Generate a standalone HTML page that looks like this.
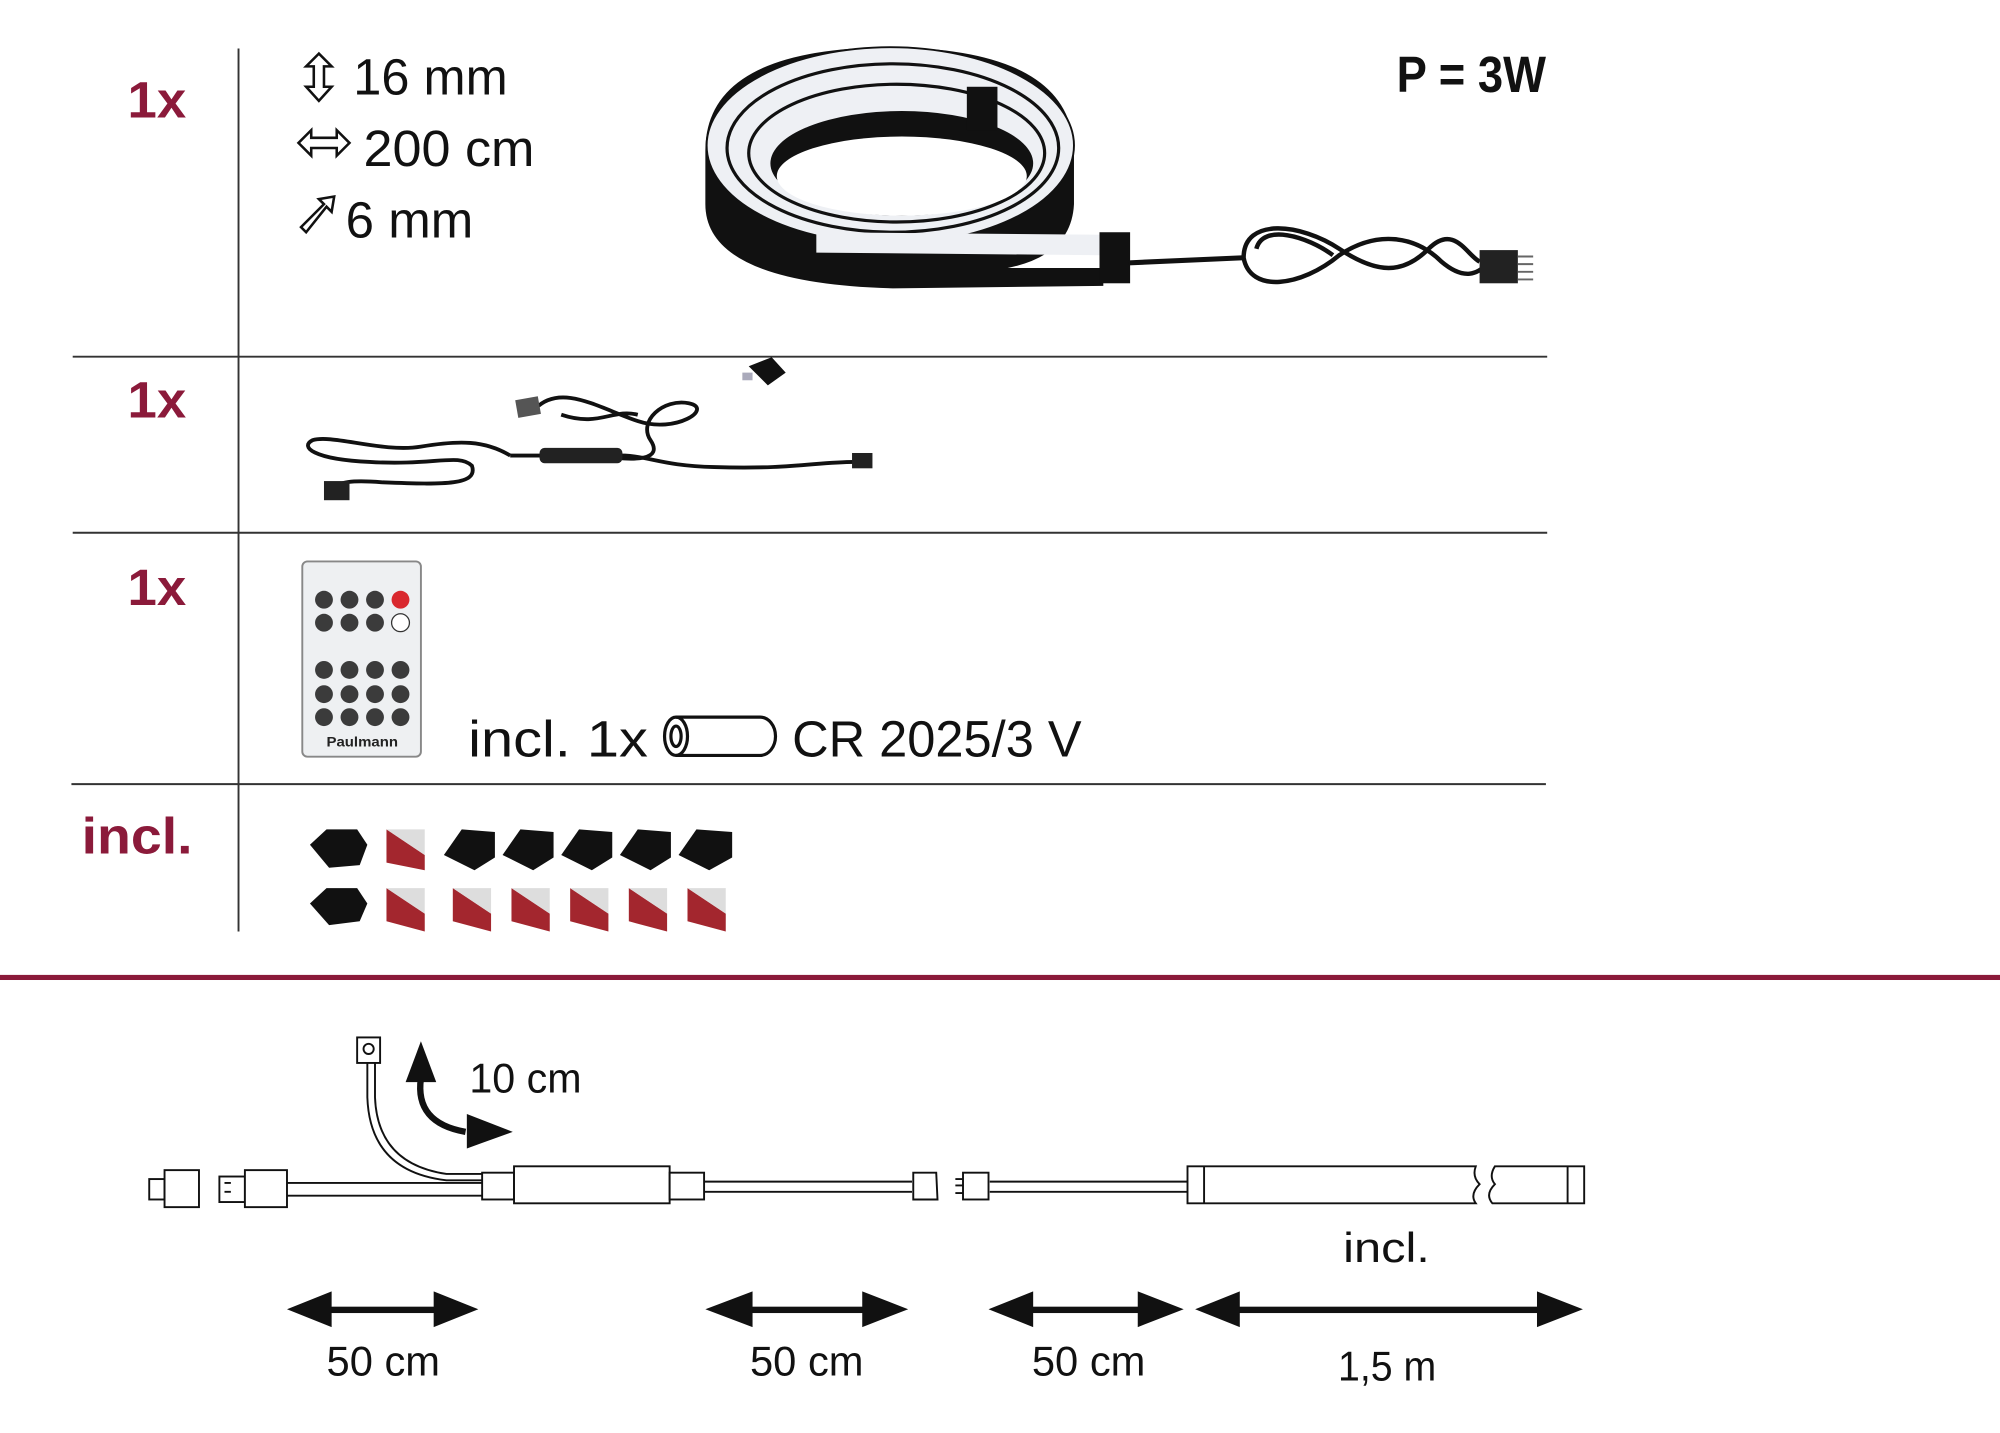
<!DOCTYPE html>
<html><head><meta charset="utf-8"><style>
html,body{margin:0;padding:0;background:#fff}
svg{display:block}
text{font-family:"Liberation Sans",sans-serif}
</style></head><body>
<svg width="2000" height="1433" viewBox="0 0 1568 1123" preserveAspectRatio="none" xmlns="http://www.w3.org/2000/svg">
<g stroke="#333" stroke-width="1.5">
<line x1="187" y1="38" x2="187" y2="730"/>
<line x1="57" y1="279.5" x2="1213" y2="279.5"/>
<line x1="57" y1="417.5" x2="1213" y2="417.5"/>
<line x1="56" y1="614.5" x2="1212" y2="614.5"/>
</g>
<rect x="0" y="764" width="1568" height="4" fill="#8b1a3a"/>
<g fill="#8b1a3a" font-weight="bold" font-size="40">
<text x="100" y="92" textLength="46" lengthAdjust="spacingAndGlyphs">1x</text>
<text x="100" y="327" textLength="46" lengthAdjust="spacingAndGlyphs">1x</text>
<text x="100" y="474" textLength="46" lengthAdjust="spacingAndGlyphs">1x</text>
<text x="64" y="669" textLength="87" lengthAdjust="spacingAndGlyphs">incl.</text>
</g>
<g fill="#111" font-size="40">
<text x="277" y="74" textLength="121" lengthAdjust="spacingAndGlyphs">16 mm</text>
<text x="285" y="130" textLength="134" lengthAdjust="spacingAndGlyphs">200 cm</text>
<text x="271" y="186" textLength="100" lengthAdjust="spacingAndGlyphs">6 mm</text>
<text x="1095" y="72" textLength="117" lengthAdjust="spacingAndGlyphs" font-weight="bold">P = 3W</text>
<text x="367" y="593" textLength="141" lengthAdjust="spacingAndGlyphs">incl. 1x</text>
<text x="621" y="593" textLength="227" lengthAdjust="spacingAndGlyphs">CR 2025/3 V</text>
</g>
<g fill="none" stroke="#111" stroke-width="2">
<path d="M250 42 L240 52 L246 52 L246 68 L240 68 L250 79 L260 68 L254 68 L254 52 L260 52 Z"/>
<path d="M234 112 L244 102 L244 108 L264 108 L264 102 L274 112 L264 122 L264 116 L244 116 L244 122 Z"/>
<path d="M236 178 L254 160 L250 156 L262 154 L260 166 L256 162 L240 182 Z"/>
</g>
<!-- coil -->
<path d="M553 118 Q553 38 697 37 Q842 38 842 120 L842 160 Q840 200 790 210 L865 210 L865 224 L700 226 Q553 222 553 160 Z" fill="#111"/>
<ellipse cx="698" cy="114" rx="144" ry="77" fill="#eef0f4"/>
<ellipse cx="698" cy="114" rx="144" ry="77" fill="none" stroke="#111" stroke-width="1.5"/>
<ellipse cx="700" cy="116" rx="130" ry="66" fill="none" stroke="#111" stroke-width="2.5"/>
<ellipse cx="703" cy="120" rx="116" ry="54" fill="none" stroke="#111" stroke-width="2.5"/>
<ellipse cx="707" cy="128" rx="103" ry="41" fill="#111"/>
<ellipse cx="707" cy="138" rx="98" ry="31" fill="#fff"/>
<rect x="758" y="68" width="24" height="34" fill="#111"/>
<path d="M640 182 L865 184 L865 200 L640 198 Z" fill="#eef0f4"/>
<rect x="862" y="182" width="24" height="40" fill="#111"/>
<path d="M885 206 L975 202" stroke="#111" stroke-width="4" fill="none"/>
<path d="M975 202 C975 170 1020 175 1050 195 C1080 215 1100 215 1120 195 C1140 175 1150 200 1160 205 M975 202 C980 230 1020 225 1050 200 C1080 180 1110 185 1130 205 C1150 222 1160 212 1165 208 M985 195 C990 175 1025 185 1045 200" stroke="#111" stroke-width="3.5" fill="none"/>
<rect x="1160" y="196" width="30" height="26" fill="#222"/>
<path d="M1190 201 h12 M1190 207 h12 M1190 213 h12 M1190 219 h12" stroke="#666" stroke-width="1.5"/>
<!-- row 2 cable -->
<path d="M587 287 L605 280 L616 292 L602 302 Z" fill="#111"/>
<path d="M582 292 h8 v6 h-8z" fill="#aab"/>
<path d="M420 320 C440 300 470 320 500 330 C530 340 560 320 540 316 C520 312 500 330 510 345 C520 360 500 362 470 357 M440 325 C470 335 480 320 500 325" stroke="#111" stroke-width="3" fill="none"/>
<rect x="405" y="312" width="18" height="14" fill="#555" transform="rotate(-10 414 319)"/>
<path d="M400 357 L490 357 C510 358 520 365 560 366 C620 368 640 362 670 362" stroke="#111" stroke-width="3" fill="none"/>
<rect x="423" y="351" width="65" height="12" rx="4" fill="#222"/>
<rect x="668" y="355" width="16" height="12" fill="#222"/>
<path d="M400 357 C380 345 360 345 330 350 C300 355 260 340 245 345 C235 350 245 360 290 362 C340 365 360 355 370 365 C375 380 350 380 300 378 C275 376 265 378 265 382" stroke="#111" stroke-width="3" fill="none"/>
<rect x="254" y="377" width="20" height="15" fill="#222"/>
<!-- remote -->
<rect x="237" y="440" width="93" height="153" rx="4" fill="#eef0f2" stroke="#888" stroke-width="1.5"/>
<g fill="#3b3b3b">
<circle cx="254" cy="470" r="7"/><circle cx="274" cy="470" r="7"/><circle cx="294" cy="470" r="7"/><circle cx="314" cy="470" r="7" fill="#d9282e"/>
<circle cx="254" cy="488" r="7"/><circle cx="274" cy="488" r="7"/><circle cx="294" cy="488" r="7"/><circle cx="314" cy="488" r="7" fill="#fff" stroke="#333"/>
<circle cx="254" cy="525" r="7"/><circle cx="274" cy="525" r="7"/><circle cx="294" cy="525" r="7"/><circle cx="314" cy="525" r="7"/>
<circle cx="254" cy="544" r="7"/><circle cx="274" cy="544" r="7"/><circle cx="294" cy="544" r="7"/><circle cx="314" cy="544" r="7"/>
<circle cx="254" cy="562" r="7"/><circle cx="274" cy="562" r="7"/><circle cx="294" cy="562" r="7"/><circle cx="314" cy="562" r="7"/>
</g>
<text x="256" y="585" font-size="11" font-weight="bold" fill="#222" textLength="56" lengthAdjust="spacingAndGlyphs">Paulmann</text>
<g fill="none" stroke="#111" stroke-width="2.5">
<path d="M530 562 L596 562 A12 15 0 0 1 596 592 L530 592"/>
<ellipse cx="530" cy="577" rx="9" ry="15"/>
<ellipse cx="530" cy="577" rx="4" ry="8"/>
</g>
<g fill="#111">
<path d="M243 662 L256 650 L280 650 L288 662 L282 678 L258 680 Z"/>
<path d="M243 708 L256 696 L280 696 L288 708 L282 722 L258 725 Z"/>
<path d="M348 670 L362 650 L388 652 L388 672 L372 682 Z"/>
<path d="M394 670 L408 650 L434 652 L434 672 L418 682 Z"/>
<path d="M440 670 L454 650 L480 652 L480 672 L464 682 Z"/>
<path d="M486 670 L500 650 L526 652 L526 672 L510 682 Z"/>
<path d="M532 670 L546 650 L574 652 L574 672 L556 682 Z"/>
</g>
<g fill="#a3262e">
<path d="M303 650 L333 670 L333 682 L303 676 Z"/>
<path d="M303 696 L333 716 L333 730 L303 722 Z"/>
<path d="M355 696 L385 716 L385 730 L355 722 Z"/>
<path d="M401 696 L431 716 L431 730 L401 722 Z"/>
<path d="M447 696 L477 716 L477 730 L447 722 Z"/>
<path d="M493 696 L523 716 L523 730 L493 722 Z"/>
<path d="M539 696 L569 716 L569 730 L539 722 Z"/>
</g>
<g fill="#ddd">
<path d="M303 650 L333 650 L333 670 Z"/><path d="M303 696 L333 696 L333 716 Z"/>
<path d="M355 696 L385 696 L385 716 Z"/><path d="M401 696 L431 696 L431 716 Z"/>
<path d="M447 696 L477 696 L477 716 Z"/><path d="M493 696 L523 696 L523 716 Z"/>
<path d="M539 696 L569 696 L569 716 Z"/>
</g>
<!-- bottom diagram -->
<g fill="#fff" stroke="#111" stroke-width="1.5">
<rect x="117" y="924" width="12" height="16"/>
<rect x="129" y="917" width="27" height="29"/>
<rect x="172" y="922" width="20" height="20"/>
<rect x="192" y="917" width="33" height="29"/>
<line x1="225" y1="927" x2="378" y2="927"/>
<line x1="225" y1="937" x2="378" y2="937"/>
<path d="M288 830 L288 860 Q290 918 350 925 L378 925" fill="none"/>
<path d="M294 830 L294 860 Q296 912 350 920 L378 920" fill="none"/>
<rect x="280" y="813" width="18" height="20"/>
<circle cx="289" cy="822" r="4"/>
<rect x="378" y="919" width="25" height="21"/>
<rect x="403" y="914" width="122" height="29"/>
<rect x="525" y="919" width="27" height="21"/>
<line x1="552" y1="926" x2="715" y2="926"/>
<line x1="552" y1="934" x2="715" y2="934"/>
<path d="M716 919 L734 919 L735 940 L716 940 Z"/>
<rect x="755" y="919" width="20" height="21"/>
<line x1="776" y1="926" x2="931" y2="926"/>
<line x1="776" y1="934" x2="931" y2="934"/>
<path d="M931 914 L1157 914 Q1154 922 1160 928 Q1152 936 1157 943 L931 943 Z"/>
<line x1="944" y1="914" x2="944" y2="943"/>
<path d="M1172 914 L1242 914 L1242 943 L1170 943 Q1164 936 1172 928 Q1167 922 1172 914 Z"/>
<line x1="1229" y1="914" x2="1229" y2="943"/>
</g>
<path d="M749 924 h6 M749 929 h6 M749 935 h6" stroke="#111" stroke-width="1.5"/>
<path d="M176 927 h5 M176 934 h5" stroke="#111" stroke-width="1.5"/>
<path d="M330 845 Q325 880 365 887" stroke="#111" stroke-width="5" fill="none"/>
<path d="M318 848 L330 816 L342 848 Z" fill="#111"/>
<path d="M366 873 L402 887 L366 900 Z" fill="#111"/>
<text x="368" y="856" font-size="33" fill="#111" textLength="88" lengthAdjust="spacingAndGlyphs">10 cm</text>
<text x="1053" y="989" font-size="33" fill="#111" textLength="68" lengthAdjust="spacingAndGlyphs">incl.</text>
<g fill="#111">
<rect x="250" y="1024" width="100" height="5"/><path d="M225 1026 L260 1012 L260 1040 Z M375 1026 L340 1012 L340 1040 Z"/>
<rect x="580" y="1024" width="105" height="5"/><path d="M553 1026 L590 1012 L590 1040 Z M712 1026 L676 1012 L676 1040 Z"/>
<rect x="800" y="1024" width="100" height="5"/><path d="M775 1026 L810 1012 L810 1040 Z M928 1026 L892 1012 L892 1040 Z"/>
<rect x="960" y="1024" width="255" height="5"/><path d="M937 1026 L972 1012 L972 1040 Z M1241 1026 L1205 1012 L1205 1040 Z"/>
</g>
<g font-size="33" fill="#111">
<text x="256" y="1078" textLength="89" lengthAdjust="spacingAndGlyphs">50 cm</text>
<text x="588" y="1078" textLength="89" lengthAdjust="spacingAndGlyphs">50 cm</text>
<text x="809" y="1078" textLength="89" lengthAdjust="spacingAndGlyphs">50 cm</text>
<text x="1049" y="1082" textLength="77" lengthAdjust="spacingAndGlyphs">1,5 m</text>
</g>
</svg>
</body></html>
